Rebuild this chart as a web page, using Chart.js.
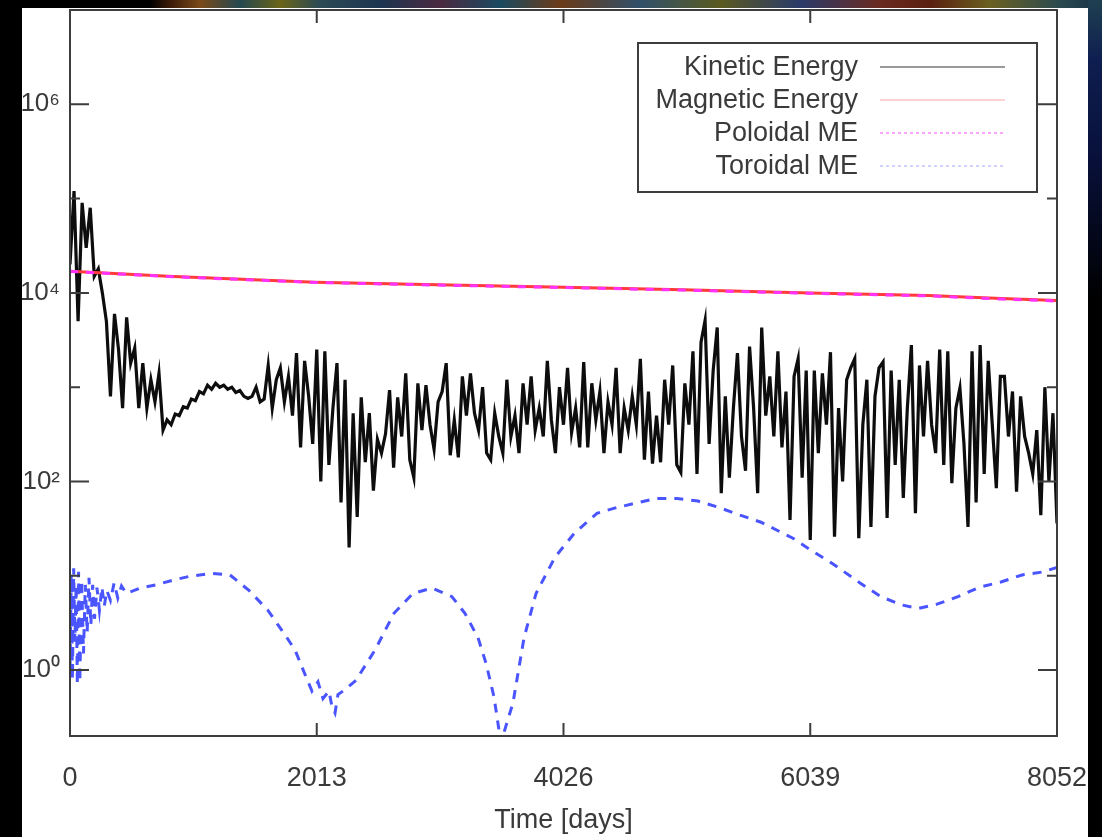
<!DOCTYPE html>
<html>
<head>
<meta charset="utf-8">
<title>Energy vs time</title>
<script src="https://cdn.jsdelivr.net/npm/chart.js@4.4.1/dist/chart.umd.min.js"></script>
<style>
    html, body { margin: 0; padding: 0; background: #000; }
    body { width: 1102px; height: 837px; position: relative; overflow: hidden; }
    #strip {
        position: absolute; left: 0; top: 0; width: 1102px; height: 10px;
        background: linear-gradient(90deg, #000 0, #000 150px, #3a1a08 170px, #7a4a18 200px, #244850 240px,
            #6a6418 280px, #2b4a55 320px, #1d3550 380px, #4a2a40 440px, #1a4a60 500px, #6a3a18 560px,
            #30506a 640px, #5a5a20 720px, #2a3a6a 800px, #6a2a20 880px, #5a2010 930px, #6a6020 990px,
            #2a4a50 1060px, #183048 1102px);
    }
    #rightBand {
        position: absolute; left: 1088px; top: 0; width: 14px; height: 837px;
        background: linear-gradient(180deg, #1f4050 0, #0e1e50 60px, #08103a 160px, #000 300px);
    }
    #paper { position: absolute; left: 22px; top: 8px; width: 1066px; height: 829px; background: #fff; }
    #energyChart { position: absolute; left: 22px; top: 8px; }
</style>
</head>
<body>
<div id="strip"></div>
<div id="rightBand"></div>
<div id="paper"></div>
<canvas id="energyChart" width="1066" height="829"></canvas>

<script>
// Kinetic energy, one sample every KE_STEP days (0 .. 8052)
const KE_STEP = 33;
const kineticEnergy = [
    2.0e4, 1.2e5, 5e3, 9e4, 3e4, 8e4, 1.5e4, 1.8e4,
    1.0e4, 5e3, 8e2, 6e3, 2.5e3, 6e2, 5.5e3, 1.8e3,
    2.6e3, 6e2, 1.8e3, 6e2, 1.2e3, 7e2, 1.4e3, 3.5e2,
    4.5e2, 4.0e2, 5.2e2, 5.0e2, 6.2e2, 6.0e2, 7.5e2, 7.2e2,
    9.0e2, 8.5e2, 1.05e3, 9.5e2, 1.1e3, 1.0e3, 1.05e3, 9.5e2,
    1.0e3, 8.8e2, 9.2e2, 8.0e2, 7.6e2, 8.0e2, 1.0e3, 7.0e2,
    7.5e2, 1.7e3, 6.0e2, 1.2e3, 1.6e3, 7.0e2, 1.3e3, 5.0e2,
    2.3e3, 2.3e2, 1.9e3, 8.0e2, 2.5e2, 2.5e3, 1.0e2, 2.4e3,
    1.5e2, 6.0e2, 1.8e3, 6.0e1, 1.2e3, 2.0e1, 5.3e2, 4.2e1,
    7.8e2, 1.6e2, 5.3e2, 8.0e1, 2.8e2, 2.0e2, 3.2e2, 9.3e2,
    1.4e2, 7.8e2, 3.0e2, 1.4e3, 1.7e2, 1.1e2, 1.1e3, 3.5e2,
    1.05e3, 4.0e2, 2.2e2, 7.0e2, 9.0e2, 1.8e3, 1.9e2, 4.5e2,
    1.8e2, 1.3e3, 5.0e2, 1.4e3, 5.3e2, 3.5e2, 1.0e3, 2.0e2,
    1.7e2, 5.3e2, 3.0e2, 2.0e2, 1.2e3, 3.0e2, 5.0e2, 2.0e2,
    1.1e3, 4.0e2, 1.3e3, 3.5e2, 6.0e2, 3.0e2, 1.9e3, 4.5e2,
    2.0e2, 1.0e3, 4.0e2, 1.6e3, 3.3e2, 6.0e2, 2.3e2, 1.85e3,
    2.3e2, 1.1e3, 4.5e2, 9.0e2, 2.0e2, 7.0e2, 4.0e2, 1.6e3,
    2.0e2, 6.0e2, 3.5e2, 8.0e2, 4.0e2, 2.0e3, 1.7e2, 9.0e2,
    1.55e2, 5.0e2, 1.6e2, 1.2e3, 4.0e2, 1.7e3, 1.5e2, 1.25e2,
    1.1e3, 4.0e2, 2.4e3, 1.2e2, 3.0e3, 5.1e3, 2.5e2, 1.5e3,
    4.3e3, 7.5e1, 8.0e2, 1.1e2, 6.0e2, 2.3e3, 3.0e2, 1.3e2,
    2.7e3, 6.0e2, 7.5e1, 4.3e3, 5.0e2, 1.3e3, 3.0e2, 2.4e3,
    2.3e2, 9.0e2, 3.9e1, 1.3e3, 2.0e3, 1.1e2, 1.5e3, 2.4e1,
    1.5e3, 2.0e2, 1.4e3, 4.0e2, 2.35e3, 2.6e1, 6.0e2, 1.0e2,
    1.2e3, 1.6e3, 2.0e3, 2.5e1, 4.0e2, 1.2e3, 3.3e1, 8.0e2,
    1.6e3, 1.85e3, 4.1e1, 1.5e3, 1.5e2, 1.2e3, 6.7e1, 6.0e2,
    2.8e3, 4.6e1, 1.7e3, 3.0e2, 1.9e3, 4.0e2, 2.0e2, 2.5e3,
    1.5e2, 2.4e3, 9.6e1, 6.0e2, 9.8e2, 2.5e2, 3.3e1, 2.4e3,
    6.0e1, 2.8e3, 1.2e2, 1.9e3, 4.0e2, 8.5e1, 1.3e3, 1.3e3,
    3.0e2, 9.0e2, 7.8e1, 8.0e2, 3.0e2, 2.0e2, 1.2e2, 3.5e2,
    4.4e1, 1.0e3, 1.0e2, 5.3e2, 3.6e1
];

// Magnetic energy and its poloidal part
const magDays = [0, 800, 2000, 3000, 4026, 5000, 6039, 7000, 7600, 8052];
const magneticEnergy = [1.7e4, 1.5e4, 1.3e4, 1.22e4, 1.15e4, 1.08e4, 1.0e4, 9.4e3, 8.7e3, 8.3e3];
const poloidalME = [1.69e4, 1.49e4, 1.29e4, 1.21e4, 1.14e4, 1.07e4, 0.99e4, 9.3e3, 8.6e3, 8.2e3];

// Toroidal magnetic energy
const torDays = [
    0, 10, 20, 30, 40, 50, 60, 70, 80, 95,
    110, 125, 140, 155, 170, 185, 200, 220, 240, 260,
    280, 300, 330, 360, 390, 420, 460, 571, 700, 840,
    979, 1167, 1305, 1460, 1615, 1770, 1836, 1925, 1974, 2023,
    2064, 2113, 2137, 2162, 2186, 2243, 2333, 2488, 2643, 2798,
    2953, 3116, 3222, 3329, 3394, 3459, 3500, 3515, 3614, 3704,
    3802, 3957, 4112, 4299, 4462, 4781, 4952, 5123, 5295, 5466,
    5637, 5898, 6045, 6216, 6445, 6616, 6787, 6918, 7073, 7244,
    7424, 7595, 7766, 7938, 8052
];
const toroidalME = [
    1.0, 10, 0.8, 12, 2.0, 8, 0.7, 11, 0.75, 9,
    1.5, 8, 2.5, 9.5, 3, 8, 3.5, 7.5, 4.3, 7.6,
    4.8, 7.0, 5.5, 8.4, 5.8, 7.8, 6.5, 7.4, 8.0, 9.0,
    9.9, 10.6, 10.2, 7.0, 4.3, 2.2, 1.63, 0.85, 0.6, 0.75,
    0.5, 0.6, 0.41, 0.35, 0.55, 0.62, 0.78, 1.63, 4.0, 6.5,
    7.4, 6.0, 4.0, 2.2, 1.18, 0.52, 0.23, 0.17, 0.45, 2.2,
    6.5, 15.8, 28, 46, 53, 66, 66, 62, 53, 44,
    37, 25, 18.7, 13.6, 8.4, 6.0, 4.9, 4.5, 5.0, 6.0,
    7.6, 8.6, 10.2, 11, 12.3
];

const xTicks = [0, 2013, 4026, 6039, 8052];
const yTickPowers = [0, 1, 2, 3, 4, 5, 6, 7];
const yLabelPowers = [0, 2, 4, 6];
const superscripts = { 0: '\u2070', 2: '\u00b2', 4: '\u2074', 6: '\u2076' };

const FONT = "'Liberation Sans', Arial, sans-serif";
const TEXT_COLOR = '#3a3a3a';

// gnuplot style frame: box border, inward ticks on all sides, boxed legend
const gnuplotFrame = {
    id: 'gnuplotFrame',
    afterDatasetsDraw(chart) {
        const { ctx, chartArea: a, scales: { x, y } } = chart;
        ctx.save();
        ctx.strokeStyle = '#3d3d3d';
        ctx.lineWidth = 2;
        ctx.strokeRect(a.left, a.top, a.right - a.left, a.bottom - a.top);

        ctx.beginPath();
        xTicks.forEach(v => {
            const px = x.getPixelForValue(v);
            ctx.moveTo(px, a.bottom); ctx.lineTo(px, a.bottom - 13);
            ctx.moveTo(px, a.top); ctx.lineTo(px, a.top + 13);
        });
        yTickPowers.forEach(p => {
            const py = y.getPixelForValue(Math.pow(10, p));
            const len = yLabelPowers.includes(p) ? 19 : 10;
            ctx.moveTo(a.left, py); ctx.lineTo(a.left + len, py);
            ctx.moveTo(a.right, py); ctx.lineTo(a.right - len, py);
        });
        ctx.stroke();

        // Legend
        const boxL = a.right - 419, boxR = a.right - 20;
        const boxT = a.top + 33, boxB = a.top + 182;
        ctx.fillStyle = '#fff';
        ctx.fillRect(boxL, boxT, boxR - boxL, boxB - boxT);
        ctx.strokeRect(boxL, boxT, boxR - boxL, boxB - boxT);

        ctx.font = '27px ' + FONT;
        ctx.textAlign = 'right';
        ctx.textBaseline = 'middle';
        chart.data.datasets.forEach((ds, i) => {
            const rowY = a.top + 57 + i * 33;
            ctx.fillStyle = TEXT_COLOR;
            ctx.fillText(ds.label, a.right - 199, rowY + 1);
            ctx.beginPath();
            ctx.strokeStyle = ds.legendColor;
            ctx.lineWidth = 1.5;
            ctx.setLineDash(ds.legendDash || []);
            ctx.moveTo(a.right - 177, rowY);
            ctx.lineTo(a.right - 52, rowY);
            ctx.stroke();
            ctx.setLineDash([]);
        });
        ctx.restore();
    }
};

const ctx = document.getElementById('energyChart').getContext('2d');

const myChart = new Chart(ctx, {
    type: 'line',
    data: {
        datasets: [
            {
                label: 'Kinetic Energy',
                data: kineticEnergy.map((v, i) => ({ x: i * KE_STEP, y: v })),
                borderColor: '#0d0d0d',
                borderWidth: 3.2,
                legendColor: '#777',
                order: 4
            },
            {
                label: 'Magnetic Energy',
                data: magDays.map((d, i) => ({ x: d, y: magneticEnergy[i] })),
                borderColor: '#ff3b3b',
                borderWidth: 3,
                legendColor: '#ffc4c4',
                order: 3
            },
            {
                label: 'Poloidal ME',
                data: magDays.map((d, i) => ({ x: d, y: poloidalME[i] })),
                borderColor: '#ff33ff',
                borderWidth: 3,
                borderDash: [8, 8],
                legendColor: '#ff88ff',
                legendDash: [3, 3],
                order: 2
            },
            {
                label: 'Toroidal ME',
                data: torDays.map((d, i) => ({ x: d, y: toroidalME[i] })),
                borderColor: '#4a55ff',
                borderWidth: 3,
                borderDash: [9, 8],
                legendColor: '#c4c4ff',
                legendDash: [3, 3],
                order: 1
            }
        ]
    },
    options: {
        responsive: false,
        animation: false,
        devicePixelRatio: 1,
        elements: { point: { radius: 0 }, line: { tension: 0 } },
        layout: { autoPadding: false, padding: { left: 0, top: 2, right: 31, bottom: 0 } },
        plugins: { legend: { display: false }, tooltip: { enabled: false } },
        scales: {
            x: {
                type: 'linear',
                min: 0,
                max: 8052,
                grid: { display: false, drawTicks: false },
                border: { display: false },
                afterBuildTicks: scale => { scale.ticks = xTicks.map(v => ({ value: v })); },
                afterFit: scale => {
                    scale.height = 101;
                    scale.paddingLeft = 0; scale.paddingRight = 0;
                    scale.paddingTop = 0; scale.paddingBottom = 0;
                },
                ticks: {
                    color: TEXT_COLOR,
                    font: { family: FONT, size: 27 },
                    padding: 26,
                    maxRotation: 0,
                    callback: v => String(v)
                },
                title: {
                    display: true,
                    text: 'Time [days]',
                    color: TEXT_COLOR,
                    font: { family: FONT, size: 27 },
                    padding: { top: 0, bottom: 0 }
                }
            },
            y: {
                type: 'logarithmic',
                min: 0.2,
                max: 1e7,
                grid: { display: false, drawTicks: false },
                border: { display: false },
                afterBuildTicks: scale => { scale.ticks = yTickPowers.map(p => ({ value: Math.pow(10, p) })); },
                afterFit: scale => {
                    scale.width = 48;
                    scale.paddingLeft = 0; scale.paddingRight = 0;
                    scale.paddingTop = 0; scale.paddingBottom = 0;
                },
                ticks: {
                    color: TEXT_COLOR,
                    font: { family: FONT, size: 26 },
                    padding: 10,
                    callback: v => {
                        const p = Math.round(Math.log10(v));
                        return yLabelPowers.includes(p) ? '10' + superscripts[p] : '';
                    }
                }
            }
        }
    },
    plugins: [gnuplotFrame]
});
</script>
</body>
</html>
